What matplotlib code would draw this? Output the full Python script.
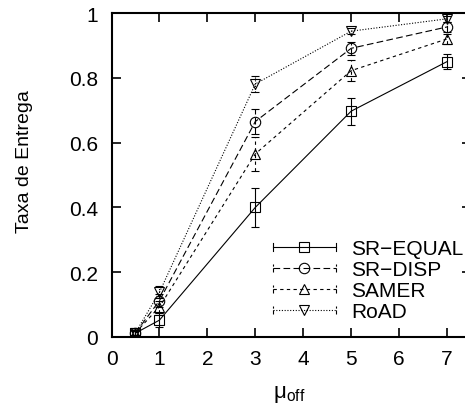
import matplotlib
matplotlib.use("Agg")
import matplotlib.pyplot as plt
from matplotlib.lines import Line2D
from matplotlib.legend_handler import HandlerLine2D

plt.rcParams['font.family'] = ['Liberation Sans', 'DejaVu Sans']
plt.rcParams['mathtext.fontset'] = 'custom'
plt.rcParams['mathtext.rm'] = 'Liberation Sans'
plt.rcParams['mathtext.it'] = 'Liberation Sans'

# Mean delivery rate per offline interval, with error half-widths
mu_off = [0.5, 1, 3, 5, 7]

sr_equal = [0.012, 0.052, 0.400, 0.697, 0.850]
sr_equal_err = [0.008, 0.022, 0.060, 0.042, 0.022]

sr_disp = [0.013, 0.112, 0.665, 0.891, 0.957]
sr_disp_err = [0.008, 0.020, 0.038, 0.020, 0.015]

samer = [0.013, 0.093, 0.565, 0.822, 0.920]
samer_err = [0.008, 0.018, 0.052, 0.032, 0.015]

road = [0.013, 0.138, 0.781, 0.944, 0.982]
road_err = [0.008, 0.018, 0.025, 0.010, 0.010]

series_names = ["SR\u2212EQUAL", "SR\u2212DISP", "SAMER", "RoAD"]
x_ticks = [0, 1, 2, 3, 4, 5, 6, 7]
y_ticks = [0, 0.2, 0.4, 0.6, 0.8, 1]
y_tick_labels = ["0", "0.2", "0.4", "0.6", "0.8", "1"]

W, H = 465, 410
fig = plt.figure(figsize=(W / 100, H / 100), dpi=100)
ax = fig.add_axes([111.5 / W, (H - 338) / H, (471 - 111.5) / W, (338 - 14) / H])

MS = 7.5
styles = [
    dict(marker='s', linestyle='-'),
    dict(marker='o', linestyle=(0, (6, 3))),
    dict(marker='^', linestyle=(0, (3, 3))),
    dict(marker='v', linestyle=(0, (1, 1.5))),
]
values = [sr_equal, sr_disp, samer, road]
errors = [sr_equal_err, sr_disp_err, samer_err, road_err]

handles = []
for name, y, e, st in zip(series_names, values, errors, styles):
    cont = ax.errorbar(mu_off, y, yerr=e, color='black', lw=0.8,
                       elinewidth=0.8, capsize=2.8, capthick=0.8,
                       marker=st['marker'], ms=MS, mfc='none',
                       mec='black', mew=0.8, linestyle=st['linestyle'])
    cont[2][0].set_linestyle(st['linestyle'])
    h = Line2D([], [], color='black', lw=0.8, linestyle=st['linestyle'],
               marker=st['marker'], ms=MS, mfc='none', mec='black',
               mew=0.8)
    handles.append(h)


class CappedLineHandler(HandlerLine2D):
    """Legend line with short end caps, like an error-bar key."""
    def create_artists(self, legend, orig_handle, xdescent, ydescent,
                       width, height, fontsize, trans):
        artists = super().create_artists(legend, orig_handle, xdescent,
                                         ydescent, width, height, fontsize,
                                         trans)
        yc = height / 2 - ydescent
        half = 3.0
        for xe in (-xdescent, -xdescent + width):
            cap = Line2D([xe, xe], [yc - half, yc + half], color='black',
                         lw=0.8, linestyle=orig_handle.get_linestyle())
            cap.set_transform(trans)
            artists.append(cap)
        return artists


ax.set_xlim(0, 7.5)
ax.set_ylim(0, 1)
ax.set_xticks(x_ticks)
ax.set_yticks(y_ticks)
ax.set_yticklabels(y_tick_labels)
ax.tick_params(direction='in', length=6.5, width=1.2, top=True, right=True,
               labelsize=15)
ax.tick_params(axis='x', pad=9)
ax.tick_params(axis='y', pad=9.5)
for sp in ax.spines.values():
    sp.set_linewidth(1.5)

ax.set_ylabel("Taxa de Entrega", fontsize=14)
ax.yaxis.set_label_coords(-0.218, 0.546)
ax.set_xlabel(r"$\mathregular{\mu_{off}}$", fontsize=16)
ax.xaxis.set_label_coords(0.495, -0.142)

leg = ax.legend(handles, series_names, handler_map={Line2D: CappedLineHandler()},
                loc='upper left', bbox_to_anchor=(273 / W, 1 - 240 / H),
                bbox_transform=fig.transFigure, frameon=False, fontsize=15,
                handlelength=3.0, handletextpad=0.75, labelspacing=0.1,
                borderpad=0, borderaxespad=0)

fig.savefig("out.png", dpi=100)
